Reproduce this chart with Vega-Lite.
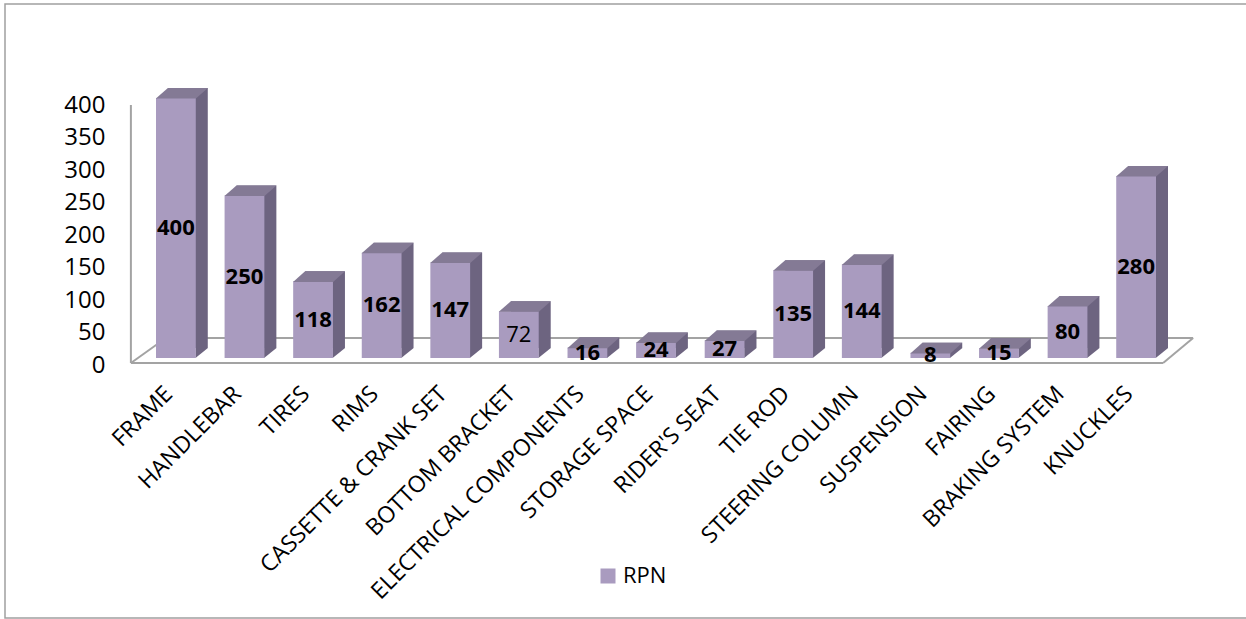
{
  "$schema": "https://vega.github.io/schema/vega-lite/v6.json",
  "width": 1242,
  "height": 614,
  "autosize": {"type": "none"},
  "padding": {"left": 5, "top": 4, "right": 0, "bottom": 1},
  "background": "white",
  "config": {"view": {"stroke": "#a0a0a0", "strokeWidth": 1.5}, "font": "Open Sans"},
  "data": {"values": [
    {"part": "FRAME", "RPN": 400},
    {"part": "HANDLEBAR", "RPN": 250},
    {"part": "TIRES", "RPN": 118},
    {"part": "RIMS", "RPN": 162},
    {"part": "CASSETTE & CRANK SET", "RPN": 147},
    {"part": "BOTTOM BRACKET", "RPN": 72},
    {"part": "ELECTRICAL COMPONENTS", "RPN": 16},
    {"part": "STORAGE SPACE", "RPN": 24},
    {"part": "RIDER'S SEAT", "RPN": 27},
    {"part": "TIE ROD", "RPN": 135},
    {"part": "STEERING COLUMN", "RPN": 144},
    {"part": "SUSPENSION", "RPN": 8},
    {"part": "FAIRING", "RPN": 15},
    {"part": "BRAKING SYSTEM", "RPN": 80},
    {"part": "KNUCKLES", "RPN": 280}
  ]},
  "layer": [
    {
      "layer": [
        {
          "data": {"values": [{}]},
          "mark": {"type": "rule", "color": "#a3a3a3", "strokeWidth": 2, "xOffset": -45, "yOffset": -2},
          "encoding": {"x": {"datum": "FRAME"}, "y": {"datum": 0}, "y2": {"datum": 400}}
        },
        {
          "data": {"values": [{}]},
          "mark": {"type": "rule", "color": "#a3a3a3", "strokeWidth": 2, "xOffset": -45, "x2Offset": 27, "yOffset": -2},
          "encoding": {"x": {"datum": "FRAME"}, "x2": {"datum": "KNUCKLES"}, "y": {"datum": 0}}
        },
        {
          "data": {"values": [{}]},
          "mark": {"type": "rule", "color": "#a3a3a3", "strokeWidth": 2, "xOffset": -10, "x2Offset": 57, "yOffset": -27},
          "encoding": {"x": {"datum": "FRAME"}, "x2": {"datum": "KNUCKLES"}, "y": {"datum": 0}}
        },
        {
          "data": {"values": [{}]},
          "mark": {"type": "rule", "color": "#a3a3a3", "strokeWidth": 2, "xOffset": -45, "x2Offset": -10, "yOffset": -2, "y2Offset": -27},
          "encoding": {"x": {"datum": "FRAME"}, "x2": {"datum": "FRAME"}, "y": {"datum": 0}, "y2": {"datum": 0}}
        },
        {
          "data": {"values": [{}]},
          "mark": {"type": "rule", "color": "#a3a3a3", "strokeWidth": 2, "xOffset": 27, "x2Offset": 57, "yOffset": -2, "y2Offset": -27},
          "encoding": {"x": {"datum": "KNUCKLES"}, "x2": {"datum": "KNUCKLES"}, "y": {"datum": 0}, "y2": {"datum": 0}}
        },
        {
          "mark": {"type": "bar", "color": "#6d6480", "xOffset": 12, "yOffset": -17, "y2Offset": -17},
          "encoding": {
            "x": {
              "field": "part", "type": "nominal",
              "scale": {"domain": ["FRAME", "HANDLEBAR", "TIRES", "RIMS", "CASSETTE & CRANK SET", "BOTTOM BRACKET", "ELECTRICAL COMPONENTS", "STORAGE SPACE", "RIDER'S SEAT", "TIE ROD", "STEERING COLUMN", "SUSPENSION", "FAIRING", "BRAKING SYSTEM", "KNUCKLES"], "paddingInner": 0.42, "paddingOuter": 0, "range": [151, 1151]},
              "axis": {"orient": "bottom", "offset": -253, "labelAngle": -45, "labelFontSize": 23, "labelColor": "black", "domain": false, "ticks": false, "labelPadding": 25, "labelOffset": -7, "title": null, "labelLimit": 500, "grid": false}
            },
            "y": {
              "field": "RPN", "type": "quantitative",
              "scale": {"domain": [-389.2, 555.4], "nice": false, "zero": false},
              "axis": {"offset": -126, "values": [0, 50, 100, 150, 200, 250, 300, 350, 400], "labelFontSize": 24, "labelColor": "black", "domain": false, "ticks": false, "grid": false, "labelPadding": 26, "title": null}
            }
          }
        },
        {
          "mark": {"type": "point", "shape": "M 0.98 0 L 0.98 -0.5 L 1.6 -0.5 Z", "size": 1600, "filled": true, "opacity": 1, "strokeWidth": 0, "color": "#6d6480", "yOffset": -7},
          "encoding": {"x": {"field": "part", "type": "nominal"}, "y": {"datum": 0}}
        },
        {
          "mark": {"type": "bar", "yOffset": -7, "y2Offset": -7},
          "encoding": {
            "x": {"field": "part", "type": "nominal"},
            "y": {"field": "RPN", "type": "quantitative"},
            "color": {"datum": "RPN", "scale": {"range": ["#a99bbf"]}, "legend": {"orient": "none", "legendX": 592, "legendY": 561, "title": null, "symbolType": "square", "symbolSize": 225, "symbolStrokeWidth": 0, "labelFontSize": 22, "labelColor": "black"}}
          }
        },
        {
          "mark": {"type": "point", "shape": "M -1 0.03 L -0.4 -0.5 L 1.6 -0.5 L 1 0.03 Z", "size": 1600, "filled": true, "opacity": 1, "strokeWidth": 0, "color": "#847a95", "yOffset": -7},
          "encoding": {"x": {"field": "part", "type": "nominal"}, "y": {"field": "RPN", "type": "quantitative"}}
        }
      ]
    },
    {
      "encoding": {
        "x": {"field": "part", "type": "nominal"},
        "y": {"field": "RPN", "type": "quantitative", "scale": {"domain": [-778.4, 1110.8], "nice": false, "zero": false}, "axis": null},
        "text": {"field": "RPN", "type": "quantitative"}
      },
      "layer": [
        {
          "transform": [{"filter": "datum.part != 'BOTTOM BRACKET'"}],
          "mark": {"type": "text", "fontSize": 22, "fontWeight": "bold", "color": "black", "yOffset": -7}
        },
        {
          "transform": [{"filter": "datum.part == 'BOTTOM BRACKET'"}],
          "mark": {"type": "text", "fontSize": 22, "fontWeight": "normal", "color": "black", "yOffset": -7}
        }
      ]
    }
  ],
  "resolve": {"scale": {"y": "independent"}}
}
